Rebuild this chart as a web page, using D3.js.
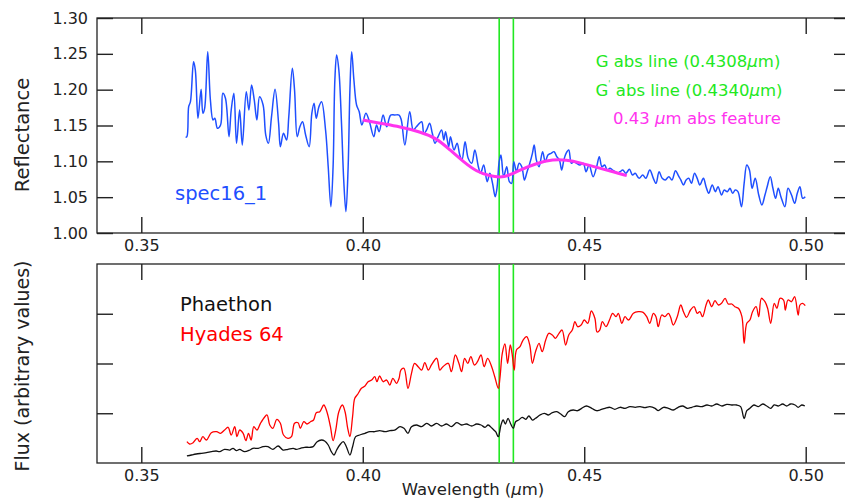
<!DOCTYPE html>
<html>
<head>
<meta charset="utf-8">
<script src="https://cdn.jsdelivr.net/npm/d3@7"></script>
<style>
  body { margin: 0; background: #fff; }
  svg { font-family: "DejaVu Sans", sans-serif; }
</style>
</head>
<body>
<div id="container"></div>
<script>
// DATA (wavelength in micron, value)
const spec16 = [
  [0.3600,1.1335],[0.3603,1.1344],[0.3607,1.1762],[0.3611,1.1832],[0.3618,1.2390],[0.3622,1.2274],
  [0.3628,1.1600],[0.3635,1.2005],[0.3639,1.1670],[0.3643,1.1740],[0.3650,1.2530],[0.3656,1.1856],
  [0.3662,1.1577],[0.3666,1.1600],[0.3672,1.1461],[0.3679,1.1507],[0.3684,1.1949],[0.3690,1.1880],
  [0.3698,1.1344],[0.3703,1.1716],[0.3709,1.1949],[0.3715,1.1252],[0.3722,1.1716],[0.3728,1.1228],
  [0.3737,1.1972],[0.3743,1.1716],[0.3749,1.2065],[0.3755,1.1856],[0.3761,1.1577],[0.3767,1.1902],
  [0.3775,1.1786],[0.3781,1.1367],[0.3787,1.1252],[0.3794,1.1623],[0.3802,1.2005],[0.3810,1.1530],
  [0.3814,1.1204],[0.3821,1.1391],[0.3828,1.1298],[0.3833,1.1623],[0.3841,1.2298],[0.3846,1.1995],
  [0.3852,1.1344],[0.3858,1.1483],[0.3864,1.1553],[0.3871,1.1367],[0.3879,1.1204],[0.3885,1.1670],
  [0.3890,1.1809],[0.3895,1.1600],[0.3901,1.1762],[0.3907,1.1832],[0.3916,1.1437],[0.3922,1.0925],
  [0.3928,1.0367],[0.3933,1.0925],[0.3937,1.2135],[0.3941,1.2484],[0.3946,1.2274],[0.3952,1.1530],
  [0.3957,1.0740],[0.3962,1.0297],[0.3967,1.0925],[0.3971,1.1995],[0.3975,1.2530],[0.3980,1.2135],
  [0.3986,1.1786],[0.3992,1.1693],[0.3998,1.1507],[0.4007,1.1670],[0.4014,1.1577],[0.4025,1.1344],
  [0.4031,1.1507],[0.4037,1.1414],[0.4046,1.1646],[0.4054,1.1483],[0.4063,1.1646],[0.4072,1.1646],
  [0.4082,1.1646],[0.4087,1.1577],[0.4095,1.1228],[0.4106,1.1693],[0.4114,1.1437],[0.4121,1.1483],
  [0.4133,1.1553],[0.4138,1.1391],[0.4144,1.1437],[0.4151,1.1530],[0.4157,1.1391],[0.4163,1.1252],
  [0.4170,1.1344],[0.4178,1.1437],[0.4183,1.1298],[0.4187,1.1414],[0.4194,1.1204],[0.4198,1.1344],
  [0.4206,1.1158],[0.4213,1.1252],[0.4219,1.1088],[0.4224,1.1019],[0.4231,1.1274],[0.4238,1.1042],
  [0.4246,1.0973],[0.4253,1.1158],[0.4261,1.0925],[0.4266,1.0833],[0.4273,1.0949],[0.4281,1.0716],
  [0.4287,1.0833],[0.4293,1.0693],[0.4299,1.0507],[0.4303,1.0624],[0.4308,1.0995],[0.4312,1.1088],
  [0.4318,1.0786],[0.4325,1.0925],[0.4331,1.0716],[0.4336,1.0693],[0.4341,1.0995],[0.4347,1.0856],
  [0.4353,1.0972],[0.4359,1.0925],[0.4365,1.0740],[0.4371,1.0856],[0.4377,1.0972],[0.4383,1.1112],
  [0.4387,1.1228],[0.4392,1.1019],[0.4398,1.0925],[0.4406,1.1135],[0.4412,1.0995],[0.4418,1.1088],
  [0.4425,1.1112],[0.4432,1.1135],[0.4438,1.1065],[0.4444,1.1019],[0.4449,1.0879],[0.4454,1.1019],
  [0.4459,1.1112],[0.4465,1.1158],[0.4471,1.0972],[0.4477,1.0995],[0.4483,1.0972],[0.4490,1.0949],
  [0.4498,1.0972],[0.4504,1.0855],[0.4511,1.0949],[0.4520,1.0786],[0.4528,1.0925],[0.4534,1.1065],
  [0.4540,1.0925],[0.4546,1.0949],[0.4552,1.0879],[0.4558,1.0903],[0.4564,1.0879],[0.4570,1.0855],
  [0.4575,1.0833],[0.4581,1.0855],[0.4587,1.0879],[0.4594,1.0833],[0.4602,1.0889],[0.4609,1.0809],
  [0.4615,1.0833],[0.4624,1.0763],[0.4632,1.0809],[0.4639,1.0763],[0.4648,1.0879],[0.4656,1.0763],
  [0.4662,1.0693],[0.4669,1.0855],[0.4676,1.0763],[0.4683,1.0740],[0.4691,1.0786],[0.4698,1.0740],
  [0.4706,1.0869],[0.4712,1.0809],[0.4718,1.0740],[0.4724,1.0670],[0.4730,1.0740],[0.4736,1.0763],
  [0.4742,1.0693],[0.4749,1.0833],[0.4755,1.0763],[0.4761,1.0670],[0.4769,1.0763],[0.4775,1.0646],
  [0.4781,1.0554],[0.4789,1.0670],[0.4796,1.0577],[0.4802,1.0646],[0.4810,1.0530],[0.4816,1.0600],
  [0.4823,1.0577],[0.4829,1.0624],[0.4835,1.0554],[0.4841,1.0600],[0.4847,1.0577],[0.4855,1.0367],
  [0.4861,1.0693],[0.4867,1.0949],[0.4873,1.0879],[0.4879,1.0624],[0.4886,1.0763],[0.4894,1.0530],
  [0.4901,1.0391],[0.4908,1.0530],[0.4913,1.0646],[0.4920,1.0786],[0.4926,1.0624],[0.4932,1.0484],
  [0.4938,1.0624],[0.4944,1.0507],[0.4953,1.0367],[0.4960,1.0624],[0.4968,1.0530],[0.4975,1.0414],
  [0.4981,1.0554],[0.4987,1.0646],[0.4993,1.0484],[0.4999,1.0507]
];

const absFit = [
  [0.4000,1.1577],[0.4038,1.1531],[0.4084,1.1483],[0.4129,1.1413],[0.4167,1.1322],[0.4197,1.1158],
  [0.4227,1.0995],[0.4257,1.0855],[0.4287,1.0795],[0.4310,1.0777],[0.4328,1.0795],[0.4355,1.0879],
  [0.4392,1.0972],[0.4430,1.1028],[0.4460,1.1019],[0.4490,1.0981],[0.4535,1.0904],[0.4565,1.0856],
  [0.4596,1.0800]
];

const hyades = [
  [0.3603,0.428],[0.3609,0.382],[0.3617,0.408],[0.3626,0.496],[0.3632,0.428],[0.3639,0.529],
  [0.3647,0.462],[0.3658,0.609],[0.3670,0.629],[0.3679,0.597],[0.3688,0.663],[0.3696,0.718],
  [0.3703,0.563],[0.3711,0.730],[0.3716,0.529],[0.3722,0.663],[0.3730,0.597],[0.3736,0.448],
  [0.3742,0.597],[0.3748,0.462],[0.3754,0.730],[0.3761,0.663],[0.3769,0.798],[0.3779,0.931],
  [0.3784,0.965],[0.3790,0.764],[0.3797,0.697],[0.3806,0.878],[0.3814,0.798],[0.3821,0.563],
  [0.3831,0.496],[0.3839,0.529],[0.3846,0.798],[0.3854,0.810],[0.3859,0.697],[0.3867,0.830],
  [0.3874,0.784],[0.3882,0.830],[0.3889,0.864],[0.3895,1.011],[0.3903,1.031],[0.3912,1.166],
  [0.3919,1.031],[0.3927,0.730],[0.3933,0.448],[0.3939,0.663],[0.3946,1.031],[0.3954,1.166],
  [0.3960,1.031],[0.3966,0.697],[0.3971,0.529],[0.3977,0.931],[0.3982,1.300],[0.3989,1.387],
  [0.3997,1.502],[0.4005,1.548],[0.4012,1.634],[0.4020,1.668],[0.4027,1.735],[0.4032,1.634],
  [0.4038,1.749],[0.4046,1.634],[0.4054,1.668],[0.4061,1.568],[0.4068,1.703],[0.4076,1.602],
  [0.4082,1.703],[0.4086,1.869],[0.4093,1.903],[0.4102,1.502],[0.4110,1.803],[0.4117,2.004],
  [0.4125,1.936],[0.4133,1.869],[0.4140,2.016],[0.4148,1.869],[0.4155,1.970],[0.4167,2.105],
  [0.4174,1.869],[0.4181,1.936],[0.4193,2.004],[0.4200,1.835],[0.4209,2.171],[0.4217,2.004],
  [0.4223,1.835],[0.4230,2.105],[0.4237,2.004],[0.4244,2.137],[0.4252,1.970],[0.4259,2.036],
  [0.4267,2.171],[0.4274,1.936],[0.4282,2.105],[0.4291,1.936],[0.4298,1.735],[0.4306,1.502],
  [0.4310,1.735],[0.4315,2.205],[0.4321,2.392],[0.4327,2.004],[0.4333,2.372],[0.4337,2.205],
  [0.4342,1.869],[0.4347,2.271],[0.4355,2.338],[0.4362,2.472],[0.4370,2.539],[0.4377,2.372],
  [0.4383,2.004],[0.4390,2.237],[0.4398,2.406],[0.4405,2.237],[0.4413,2.472],[0.4420,2.607],
  [0.4428,2.573],[0.4435,2.506],[0.4443,2.607],[0.4450,2.673],[0.4458,2.372],[0.4465,2.573],
  [0.4473,2.673],[0.4479,2.840],[0.4485,2.740],[0.4493,2.774],[0.4500,2.874],[0.4508,2.808],
  [0.4516,3.055],[0.4524,2.909],[0.4529,2.633],[0.4535,2.673],[0.4541,2.840],[0.4549,2.740],
  [0.4557,2.874],[0.4564,3.009],[0.4572,2.941],[0.4577,3.009],[0.4585,2.808],[0.4592,2.941],
  [0.4600,2.874],[0.4611,3.009],[0.4622,3.041],[0.4633,3.029],[0.4641,2.941],[0.4648,2.808],
  [0.4656,3.009],[0.4662,2.941],[0.4667,2.740],[0.4675,2.975],[0.4682,2.941],[0.4690,3.009],
  [0.4695,2.929],[0.4701,2.774],[0.4710,2.941],[0.4718,3.176],[0.4724,3.041],[0.4731,2.929],
  [0.4740,3.075],[0.4748,3.142],[0.4755,3.009],[0.4761,3.041],[0.4767,2.941],[0.4775,3.176],
  [0.4780,3.276],[0.4788,3.142],[0.4795,3.262],[0.4803,3.176],[0.4810,3.210],[0.4818,3.311],
  [0.4825,3.196],[0.4833,3.196],[0.4840,3.142],[0.4848,3.110],[0.4856,2.941],[0.4861,2.406],
  [0.4867,2.808],[0.4874,2.874],[0.4880,3.041],[0.4888,3.142],[0.4894,2.941],[0.4900,3.311],
  [0.4908,3.242],[0.4914,3.110],[0.4921,2.808],[0.4929,3.210],[0.4935,3.110],[0.4942,3.311],
  [0.4950,3.276],[0.4954,3.075],[0.4960,3.276],[0.4968,3.242],[0.4975,3.343],[0.4983,2.975],
  [0.4987,3.176],[0.4993,3.210],[0.4999,3.162]
];

const phaethon = [
  [0.3603,0.141],[0.3613,0.161],[0.3624,0.181],[0.3636,0.195],[0.3647,0.207],[0.3658,0.227],
  [0.3669,0.241],[0.3677,0.227],[0.3688,0.275],[0.3700,0.261],[0.3707,0.295],[0.3715,0.247],
  [0.3722,0.275],[0.3733,0.227],[0.3745,0.261],[0.3752,0.295],[0.3764,0.295],[0.3775,0.328],
  [0.3786,0.328],[0.3797,0.275],[0.3809,0.342],[0.3820,0.261],[0.3831,0.275],[0.3843,0.295],
  [0.3850,0.275],[0.3859,0.295],[0.3869,0.316],[0.3880,0.316],[0.3888,0.328],[0.3897,0.428],
  [0.3907,0.462],[0.3914,0.442],[0.3922,0.362],[0.3929,0.227],[0.3935,0.161],[0.3941,0.261],
  [0.3948,0.362],[0.3956,0.428],[0.3963,0.328],[0.3971,0.161],[0.3977,0.328],[0.3984,0.529],
  [0.3993,0.563],[0.4005,0.597],[0.4016,0.629],[0.4027,0.629],[0.4038,0.649],[0.4050,0.629],
  [0.4061,0.649],[0.4072,0.663],[0.4084,0.730],[0.4093,0.697],[0.4102,0.597],[0.4110,0.730],
  [0.4121,0.764],[0.4133,0.730],[0.4144,0.798],[0.4155,0.744],[0.4167,0.798],[0.4178,0.744],
  [0.4189,0.784],[0.4200,0.730],[0.4212,0.810],[0.4223,0.764],[0.4234,0.784],[0.4246,0.744],
  [0.4257,0.784],[0.4267,0.764],[0.4276,0.718],[0.4283,0.764],[0.4292,0.697],[0.4300,0.629],
  [0.4306,0.529],[0.4312,0.764],[0.4317,0.864],[0.4322,0.784],[0.4328,0.898],[0.4334,0.784],
  [0.4340,0.697],[0.4345,0.830],[0.4352,0.864],[0.4360,0.918],[0.4368,0.878],[0.4375,0.945],
  [0.4383,0.864],[0.4390,0.898],[0.4400,0.965],[0.4410,0.999],[0.4419,0.965],[0.4428,1.011],
  [0.4438,1.031],[0.4447,0.985],[0.4456,0.931],[0.4464,1.031],[0.4475,1.065],[0.4485,1.051],
  [0.4494,1.099],[0.4505,1.146],[0.4517,1.099],[0.4528,1.051],[0.4535,1.065],[0.4547,1.099],
  [0.4558,1.120],[0.4569,1.079],[0.4581,1.120],[0.4592,1.099],[0.4603,1.132],[0.4615,1.120],
  [0.4626,1.132],[0.4637,1.112],[0.4648,1.132],[0.4660,1.099],[0.4667,1.051],[0.4679,1.120],
  [0.4690,1.099],[0.4701,1.065],[0.4712,1.120],[0.4722,1.146],[0.4733,1.099],[0.4743,1.120],
  [0.4754,1.146],[0.4765,1.132],[0.4777,1.166],[0.4788,1.146],[0.4799,1.186],[0.4811,1.146],
  [0.4822,1.180],[0.4833,1.166],[0.4844,1.166],[0.4853,1.132],[0.4861,0.894],[0.4867,1.051],
  [0.4874,1.099],[0.4883,1.166],[0.4893,1.132],[0.4903,1.186],[0.4912,1.146],[0.4921,1.099],
  [0.4929,1.166],[0.4938,1.146],[0.4948,1.186],[0.4957,1.146],[0.4966,1.186],[0.4976,1.166],
  [0.4983,1.120],[0.4991,1.166],[0.4998,1.146]
];

const gLines = [0.4308, 0.4340];
const xTicks = [0.35, 0.40, 0.45, 0.50];
const reflTicks = [1.00, 1.05, 1.10, 1.15, 1.20, 1.25, 1.30];
const fluxTicks = [1, 2, 3];

//CONSTANTS
const width = 845, height = 500;
const left = 97, right = 850;
const top1 = {top: 18, bottom: 233};
const top2 = {top: 264, bottom: 463};
const tickLen = 16;

const blue = "#1f4fff", magenta = "#ff33ee", green = "#22e822";

const svg = d3.select("#container").append("svg")
  .attr("width", width).attr("height", height);

//SCALES
const xScale = d3.scaleLinear().domain([0.34, 0.51]).range([left, right]);
const yRefl = d3.scaleLinear().domain([1.0, 1.3]).range([top1.bottom, top1.top]);
const yFlux = d3.scaleLinear().domain([0, 4]).range([top2.bottom, top2.top]);

function styleAxis(g) {
  g.select(".domain").remove();
  g.selectAll(".tick line").attr("stroke", "#222").attr("stroke-width", 1.4);
  g.selectAll(".tick text").attr("font-size", 16).attr("fill", "#222")
    .attr("font-family", "DejaVu Sans, sans-serif");
}

function panel(yScale, box, yTickVals, yFmt) {
  // x axes
  svg.append("g").attr("transform", `translate(0,${box.bottom})`)
    .call(d3.axisBottom(xScale).tickValues(xTicks).tickSize(-tickLen).tickPadding(7)
      .tickFormat(d3.format(".2f")))
    .call(styleAxis);
  svg.append("g").attr("transform", `translate(0,${box.top})`)
    .call(d3.axisTop(xScale).tickValues(xTicks).tickSize(-tickLen).tickFormat(""))
    .call(styleAxis);
  // y axes
  svg.append("g").attr("transform", `translate(${left},0)`)
    .call(d3.axisLeft(yScale).tickValues(yTickVals).tickSize(-tickLen).tickPadding(9).tickFormat(yFmt))
    .call(styleAxis);
  svg.append("g").attr("transform", `translate(${right},0)`)
    .call(d3.axisRight(yScale).tickValues(yTickVals).tickSize(-tickLen).tickFormat(""))
    .call(styleAxis);
  // frame
  svg.append("rect")
    .attr("x", left).attr("y", box.top)
    .attr("width", right - left).attr("height", box.bottom - box.top)
    .attr("fill", "none").attr("stroke", "#222").attr("stroke-width", 1.3);
}

panel(yRefl, top1, reflTicks, d3.format(".2f"));
panel(yFlux, top2, fluxTicks, () => "");

// green absorption lines through both panels
[top1, top2].forEach(box => {
  svg.append("g").selectAll("line")
    .data(gLines)
    .join("line")
    .attr("x1", d => xScale(d)).attr("x2", d => xScale(d))
    .attr("y1", box.top).attr("y2", box.bottom)
    .attr("stroke", green).attr("stroke-width", 1.6);
});

const lineRefl = d3.line()
  .x(d => xScale(d[0])).y(d => yRefl(d[1]))
  .curve(d3.curveCatmullRom.alpha(0.5));
const lineFlux = d3.line()
  .x(d => xScale(d[0])).y(d => yFlux(d[1]))
  .curve(d3.curveCatmullRom.alpha(0.5));

svg.append("path").datum(spec16)
  .attr("fill", "none").attr("stroke", blue).attr("stroke-width", 1.5)
  .attr("d", lineRefl);

svg.append("path").datum(absFit)
  .attr("fill", "none").attr("stroke", magenta).attr("stroke-width", 3)
  .attr("d", lineRefl.curve(d3.curveBasis));

svg.append("path").datum(hyades)
  .attr("fill", "none").attr("stroke", "#ff0000").attr("stroke-width", 1.3)
  .attr("d", lineFlux);

svg.append("path").datum(phaethon)
  .attr("fill", "none").attr("stroke", "#111").attr("stroke-width", 1.3)
  .attr("d", lineFlux);

// labels in top panel
const lab = svg.append("g").attr("font-size", 16.5).attr("text-anchor", "middle");
const t1 = lab.append("text").attr("x", 688).attr("y", 67).attr("fill", green);
t1.append("tspan").text("G abs line (0.4308");
t1.append("tspan").attr("font-style", "italic").text("μ");
t1.append("tspan").text("m)");
const t2 = lab.append("text").attr("x", 689).attr("y", 96).attr("fill", green);
t2.append("tspan").text("G");
t2.append("tspan").attr("font-size", 8).attr("dy", -9).text("'");
t2.append("tspan").attr("dy", 9).text(" abs line (0.4340");
t2.append("tspan").attr("font-style", "italic").text("μ");
t2.append("tspan").text("m)");
const t3 = lab.append("text").attr("x", 697).attr("y", 124).attr("fill", magenta);
t3.append("tspan").text("0.43 ");
t3.append("tspan").attr("font-style", "italic").text("μ");
t3.append("tspan").text("m abs feature");

svg.append("text").attr("x", 175).attr("y", 200)
  .attr("font-size", 19.5).attr("fill", blue).text("spec16_1");

svg.append("text").attr("x", 180).attr("y", 311)
  .attr("font-size", 19.5).attr("fill", "#111").text("Phaethon");
svg.append("text").attr("x", 180).attr("y", 341)
  .attr("font-size", 19.5).attr("fill", "#ff0000").text("Hyades 64");

// axis titles
svg.append("text")
  .attr("transform", "translate(29,135) rotate(-90)")
  .attr("text-anchor", "middle").attr("font-size", 19.5).attr("fill", "#222")
  .text("Reflectance");
svg.append("text")
  .attr("transform", "translate(29,366) rotate(-90)")
  .attr("text-anchor", "middle").attr("font-size", 19).attr("fill", "#222")
  .text("Flux (arbitrary values)");
const xt = svg.append("text")
  .attr("x", 473).attr("y", 495)
  .attr("text-anchor", "middle").attr("font-size", 16.5).attr("fill", "#222");
xt.append("tspan").text("Wavelength (");
xt.append("tspan").attr("font-style", "italic").text("μ");
xt.append("tspan").text("m)");
</script>
</body>
</html>
